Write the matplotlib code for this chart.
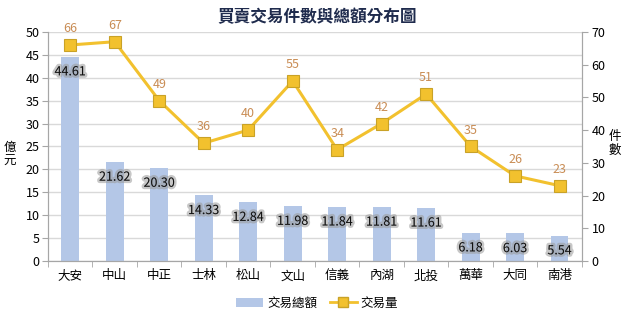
import matplotlib
matplotlib.use("Agg")
import matplotlib.pyplot as plt
import matplotlib.patheffects as pe
from matplotlib.lines import Line2D
from matplotlib.patches import Patch
import numpy as np

plt.rcParams['font.family'] = ['Noto Sans CJK TC', 'DejaVu Sans']

districts = ['大安', '中山', '中正', '士林', '松山', '文山', '信義', '內湖', '北投', '萬華', '大同', '南港']
amount = [44.61, 21.62, 20.30, 14.33, 12.84, 11.98, 11.84, 11.81, 11.61, 6.18, 6.03, 5.54]
count = [66, 67, 49, 36, 40, 55, 34, 42, 51, 35, 26, 23]

fig = plt.figure(figsize=(6.34, 3.19), dpi=100)
ax = fig.add_axes([0.0757, 0.182, 0.842, 0.718])
ax2 = ax.twinx()

x = np.arange(len(districts))
bar_color = '#b4c7e7'
line_color = '#f2c12e'
grid_color = '#d9d9d9'
spine_color = '#a6a6a6'

ax.bar(x, amount, width=0.4, color=bar_color, zorder=2)
ax.set_xlim(-0.5, len(districts) - 0.5)
ax.set_ylim(0, 50)
ax.set_yticks(range(0, 51, 5))
ax.yaxis.grid(True, color=grid_color, linewidth=1, zorder=0)
ax.set_axisbelow(True)
ax.set_xticks(x)
ax.set_xticklabels(districts, fontsize=9)
ax.set_xticks(np.arange(-0.5, len(districts), 1), minor=True)
ax.tick_params(axis='x', which='major', length=0, pad=6)
ax.tick_params(axis='x', which='minor', length=4, color=spine_color)
ax.tick_params(axis='y', length=4, color=spine_color, labelsize=9, pad=2)

for a in (ax, ax2):
    a.spines['top'].set_visible(False)
    for s in ['left', 'right', 'bottom']:
        a.spines[s].set_color(spine_color)

glow = [pe.withStroke(linewidth=3.5, foreground='#9a9a9a', alpha=0.55)]
for xi, v in zip(x, amount):
    ax.annotate(f'{v:.2f}', (xi, v), xytext=(0, -11), textcoords='offset points',
                ha='center', va='center', fontsize=9, color='#111111',
                path_effects=glow, zorder=5)

ax2.plot(x, count, color=line_color, linewidth=2.2, marker='s', markersize=8,
         markerfacecolor='#f2c12e', markeredgecolor='#c9a227', markeredgewidth=0.8, zorder=4)
ax2.set_ylim(0, 70)
ax2.set_yticks(range(0, 71, 10))
ax2.tick_params(axis='y', length=4, color=spine_color, labelsize=9, pad=3)
for xi, v in zip(x, count):
    ax2.annotate(f'{v}', (xi, v), xytext=(0, 7), textcoords='offset points',
                 ha='center', va='bottom', fontsize=9, color='#c98d55')

fig.text(0.016, 0.515, '億\n元', fontsize=9, ha='center', va='center', linespacing=1.1)
fig.text(0.97, 0.55, '件\n數', fontsize=9, ha='center', va='center', linespacing=1.1)

fig.text(0.5, 0.945, '買賣交易件數與總額分布圖', fontsize=12, fontweight='bold',
         ha='center', va='center', color='#1f2b4d')

handles = [Patch(facecolor=bar_color, edgecolor='none'),
           Line2D([0], [0], color=line_color, linewidth=2, marker='s', markersize=7,
                  markerfacecolor='#f2c12e', markeredgecolor='#c9a227')]
fig.legend(handles, ['交易總額', '交易量'], loc='center', bbox_to_anchor=(0.5, 0.05),
           ncol=2, frameon=False, fontsize=9, handlelength=2.2, columnspacing=1.0,
           handletextpad=0.3)

fig.savefig('out.png', dpi=100)
